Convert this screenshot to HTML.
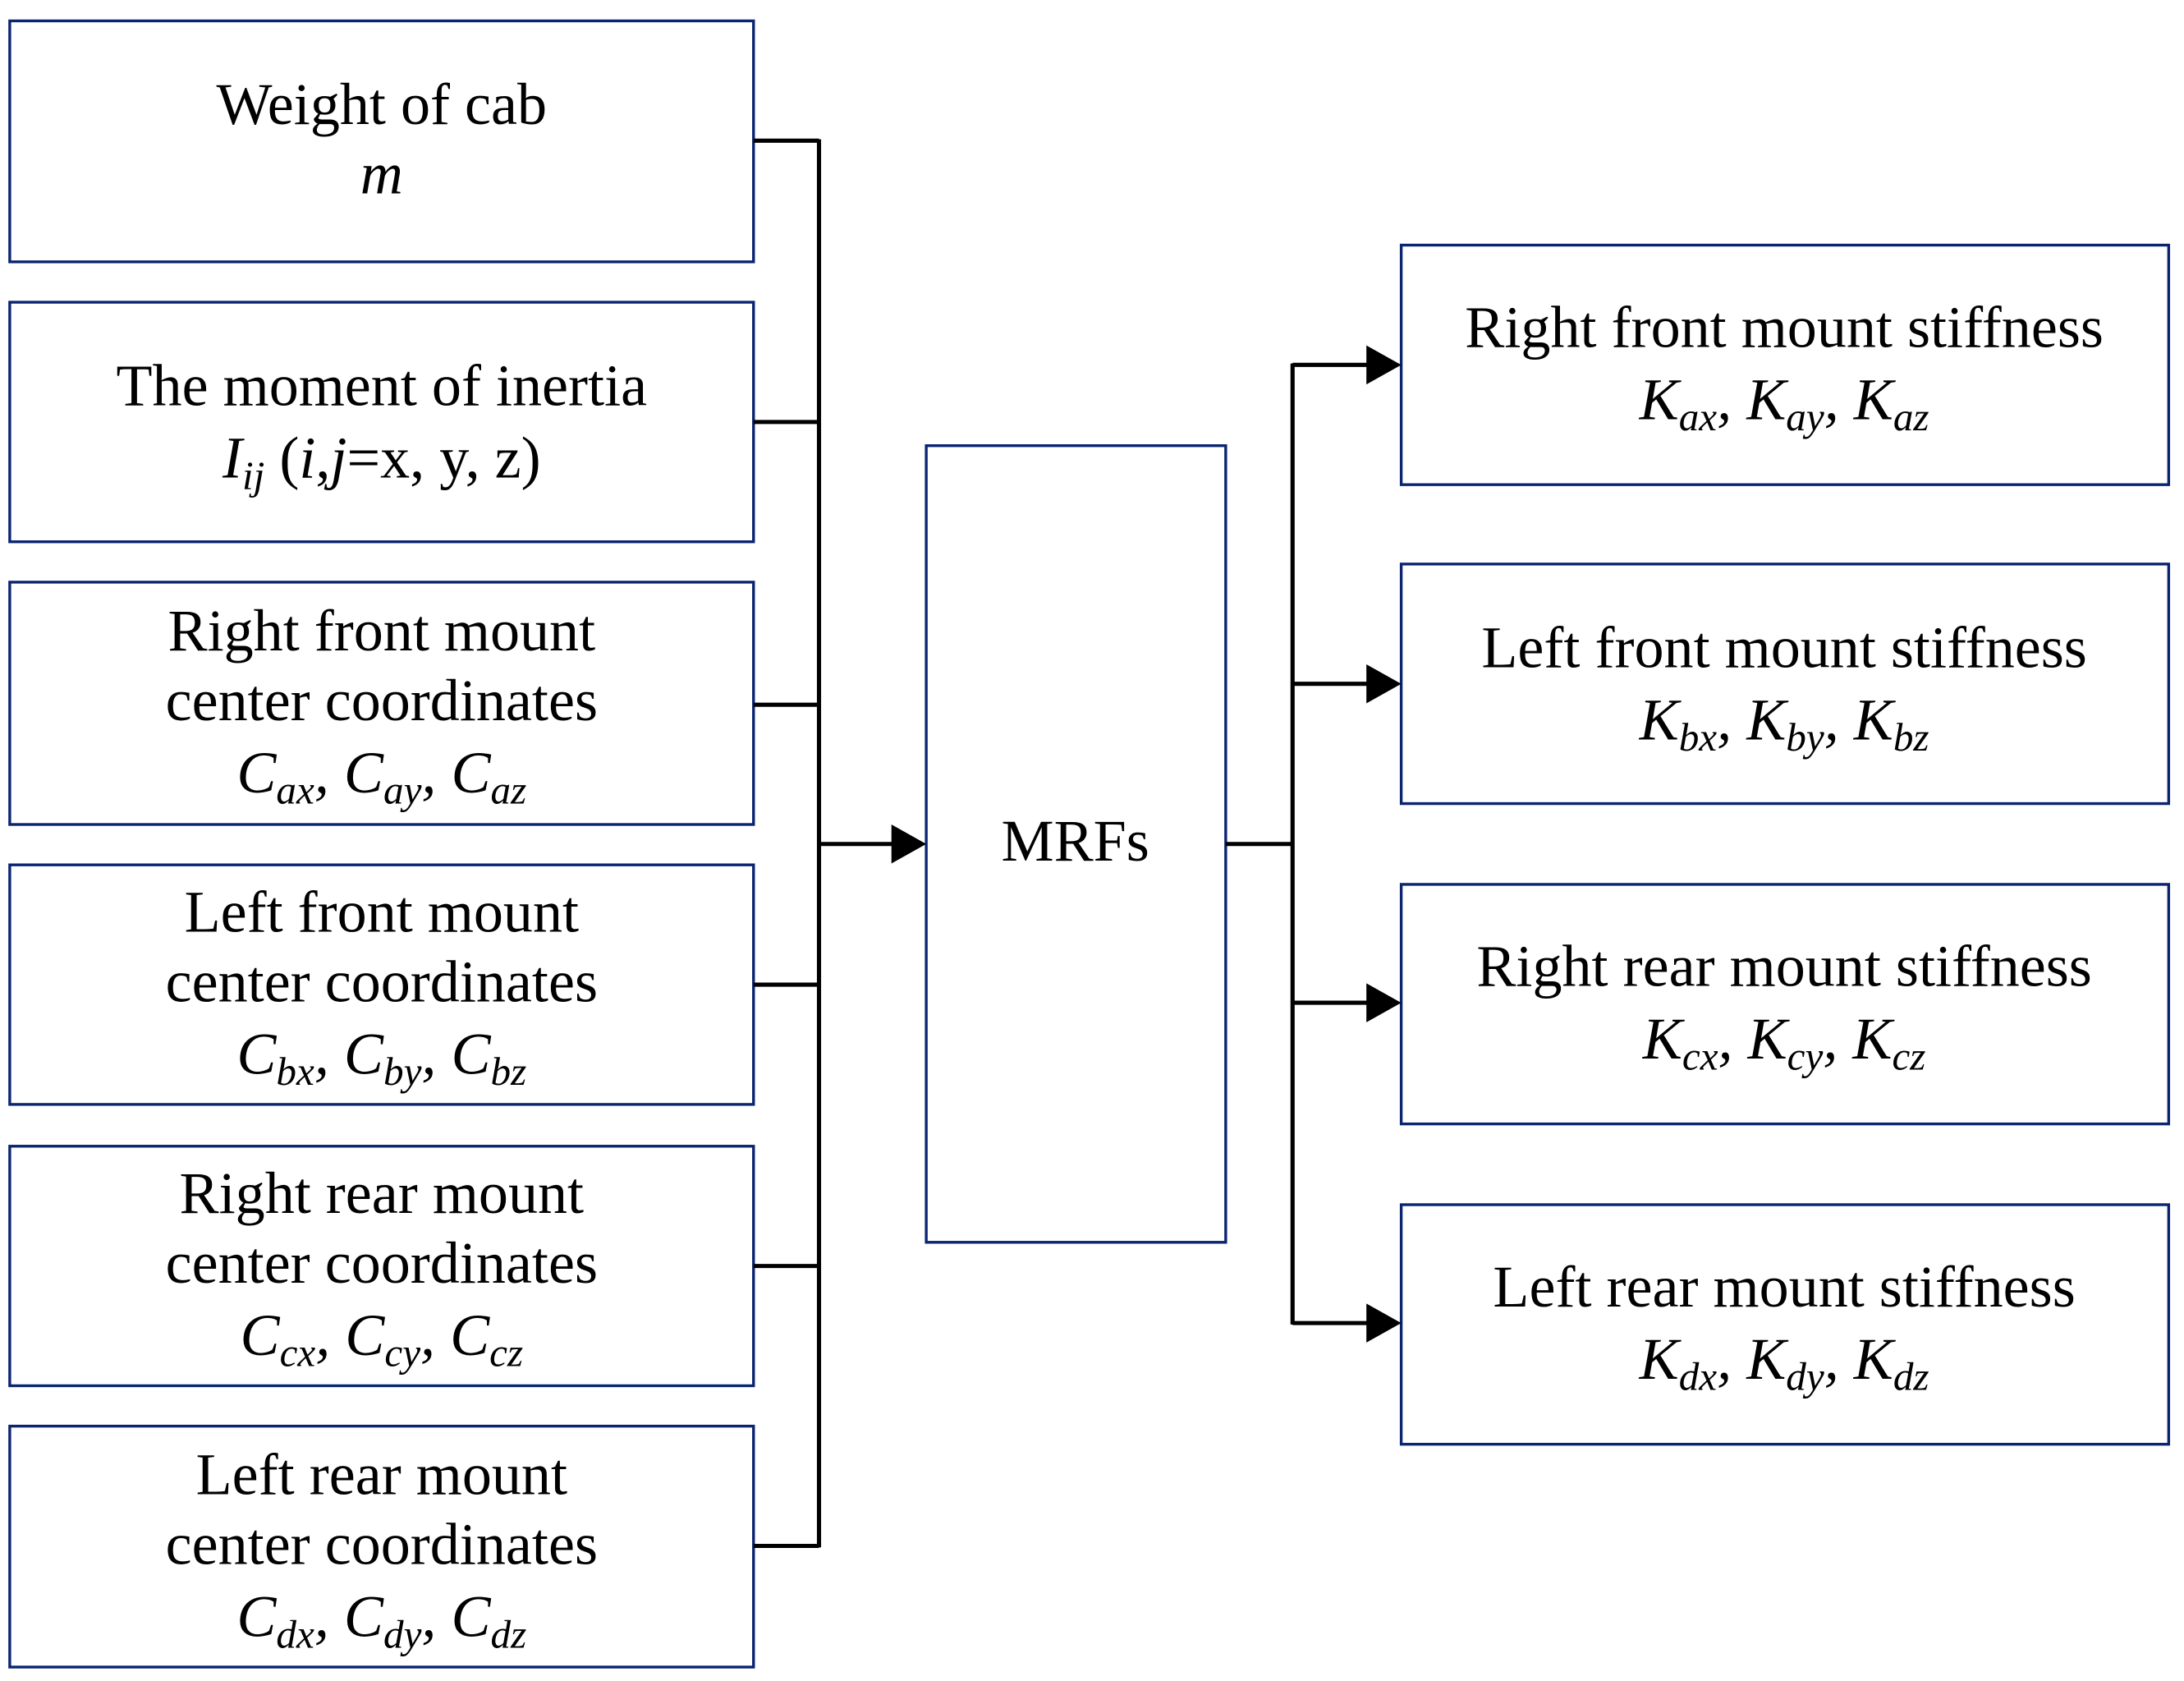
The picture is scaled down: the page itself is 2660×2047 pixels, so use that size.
<!DOCTYPE html>
<html><head><style>
html,body{margin:0;padding:0;background:#fff;}
svg{display:block;}
text{font-family:"Liberation Serif",serif;font-size:42.5px;fill:#000;}
</style></head><body>
<svg width="2660" height="2047" viewBox="0 0 1568 1207" preserveAspectRatio="none">
<g fill="none" stroke="#0a2470" stroke-width="2">
<rect x="7" y="15" width="534" height="173"/>
<rect x="7" y="217" width="534" height="172"/>
<rect x="7" y="418" width="534" height="174"/>
<rect x="7" y="621" width="534" height="172"/>
<rect x="7" y="823" width="534" height="172"/>
<rect x="7" y="1024" width="534" height="173"/>
<rect x="665" y="320" width="215" height="572"/>
<rect x="1006" y="176" width="551" height="172"/>
<rect x="1006" y="405" width="551" height="172"/>
<rect x="1006" y="635" width="551" height="172"/>
<rect x="1006" y="865" width="551" height="172"/>
</g>
<g stroke="#000" stroke-width="3" fill="none">
<line x1="588" y1="100" x2="588" y2="1111"/>
<line x1="541" y1="101" x2="588" y2="101"/>
<line x1="541" y1="303" x2="588" y2="303"/>
<line x1="541" y1="506" x2="588" y2="506"/>
<line x1="541" y1="707" x2="588" y2="707"/>
<line x1="541" y1="909" x2="588" y2="909"/>
<line x1="541" y1="1110" x2="588" y2="1110"/>
<line x1="588" y1="606" x2="642" y2="606"/>
<line x1="880" y1="606" x2="928" y2="606"/>
<line x1="928" y1="261" x2="928" y2="951"/>
<line x1="928" y1="262" x2="983" y2="262"/>
<line x1="928" y1="491" x2="983" y2="491"/>
<line x1="928" y1="720" x2="983" y2="720"/>
<line x1="928" y1="950" x2="983" y2="950"/>
</g>
<g fill="#000">
<polygon points="640,592 665,606 640,620"/>
<polygon points="981,248 1006,262 981,276"/>
<polygon points="981,477 1006,491 981,505"/>
<polygon points="981,706 1006,720 981,734"/>
<polygon points="981,936 1006,950 981,964"/>
</g>
<g text-anchor="middle">
<text x="274" y="89">Weight of cab</text>
<text x="274" y="139" font-style="italic">m</text>
<text x="274" y="291">The moment of inertia</text>
<text x="274" y="343"><tspan font-style="italic">I</tspan><tspan font-style="italic" font-size="29" dy="8">ij</tspan><tspan dy="-8"> (</tspan><tspan font-style="italic">i</tspan>,<tspan font-style="italic">j</tspan>=x, y, z)</text>

<text x="274" y="467">Right front mount</text>
<text x="274" y="517">center coordinates</text>
<text x="274" y="569" font-style="italic">C<tspan font-size="29" dy="8">ax</tspan><tspan dy="-8">, C</tspan><tspan font-size="29" dy="8">ay</tspan><tspan dy="-8">, C</tspan><tspan font-size="29" dy="8">az</tspan></text>

<text x="274" y="669">Left front mount</text>
<text x="274" y="719">center coordinates</text>
<text x="274" y="771" font-style="italic">C<tspan font-size="29" dy="8">bx</tspan><tspan dy="-8">, C</tspan><tspan font-size="29" dy="8">by</tspan><tspan dy="-8">, C</tspan><tspan font-size="29" dy="8">bz</tspan></text>

<text x="274" y="871">Right rear mount</text>
<text x="274" y="921">center coordinates</text>
<text x="274" y="973" font-style="italic">C<tspan font-size="29" dy="8">cx</tspan><tspan dy="-8">, C</tspan><tspan font-size="29" dy="8">cy</tspan><tspan dy="-8">, C</tspan><tspan font-size="29" dy="8">cz</tspan></text>

<text x="274" y="1073">Left rear mount</text>
<text x="274" y="1123">center coordinates</text>
<text x="274" y="1175" font-style="italic">C<tspan font-size="29" dy="8">dx</tspan><tspan dy="-8">, C</tspan><tspan font-size="29" dy="8">dy</tspan><tspan dy="-8">, C</tspan><tspan font-size="29" dy="8">dz</tspan></text>

<text x="772" y="618">MRFs</text>

<text x="1281" y="249">Right front mount stiffness</text>
<text x="1281" y="301" font-style="italic">K<tspan font-size="29" dy="8">ax</tspan><tspan dy="-8">, K</tspan><tspan font-size="29" dy="8">ay</tspan><tspan dy="-8">, K</tspan><tspan font-size="29" dy="8">az</tspan></text>
<text x="1281" y="479">Left front mount stiffness</text>
<text x="1281" y="531" font-style="italic">K<tspan font-size="29" dy="8">bx</tspan><tspan dy="-8">, K</tspan><tspan font-size="29" dy="8">by</tspan><tspan dy="-8">, K</tspan><tspan font-size="29" dy="8">bz</tspan></text>
<text x="1281" y="708">Right rear mount stiffness</text>
<text x="1281" y="760" font-style="italic">K<tspan font-size="29" dy="8">cx</tspan><tspan dy="-8">, K</tspan><tspan font-size="29" dy="8">cy</tspan><tspan dy="-8">, K</tspan><tspan font-size="29" dy="8">cz</tspan></text>
<text x="1281" y="938">Left rear mount stiffness</text>
<text x="1281" y="990" font-style="italic">K<tspan font-size="29" dy="8">dx</tspan><tspan dy="-8">, K</tspan><tspan font-size="29" dy="8">dy</tspan><tspan dy="-8">, K</tspan><tspan font-size="29" dy="8">dz</tspan></text>
</g>
</svg>
</body></html>
